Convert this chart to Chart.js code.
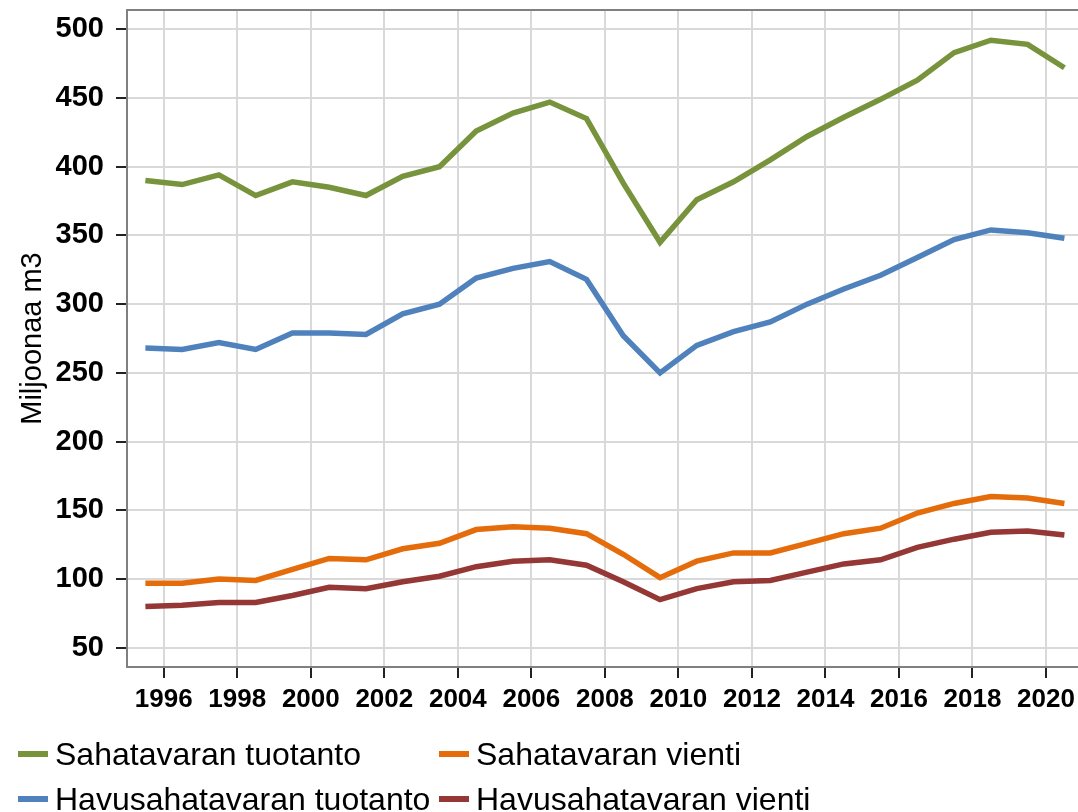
<!DOCTYPE html>
<html>
<head>
<meta charset="utf-8">
<script src="https://cdn.jsdelivr.net/npm/chart.js@4.4.0/dist/chart.umd.min.js"></script>
<style>
  html, body { margin: 0; padding: 0; background: #fff; }
  #wrap { position: relative; width: 1078px; height: 812px; overflow: hidden; }
  #chart { position: absolute; left: 0; top: 0; }
  .legend-item { position: absolute; font-family: "Liberation Sans", Arial, sans-serif; font-size: 32px; color: #000; white-space: nowrap; line-height: 36px; }
  .legend-item span.sw { position: absolute; left: 0; top: 15px; width: 30px; height: 6px; }
  .legend-item span.tx { position: absolute; left: 37px; top: 0; }
</style>
</head>
<body>
<div id="wrap">
  <canvas id="chart" width="1078" height="812"></canvas>
  <div id="legend"></div>
</div>
<script>
// Years (data plotted at mid-year)
const years = [1995, 1996, 1997, 1998, 1999, 2000, 2001, 2002, 2003, 2004, 2005, 2006, 2007,
  2008, 2009, 2010, 2011, 2012, 2013, 2014, 2015, 2016, 2017, 2018, 2019, 2020];

// Miljoonaa m3
const sahatavaranTuotanto = [390, 387, 394, 379, 389, 385, 379, 393, 400, 426, 439, 447, 435,
  388, 345, 376, 389, 405, 422, 436, 449, 463, 483, 492, 489, 472];
const havusahatavaranTuotanto = [268, 267, 272, 267, 279, 279, 278, 293, 300, 319, 326, 331, 318,
  277, 250, 270, 280, 287, 300, 311, 321, 334, 347, 354, 352, 348];
const sahatavaranVienti = [97, 97, 100, 99, 107, 115, 114, 122, 126, 136, 138, 137, 133,
  118, 101, 113, 119, 119, 126, 133, 137, 148, 155, 160, 159, 155];
const havusahatavaranVienti = [80, 81, 83, 83, 88, 94, 93, 98, 102, 109, 113, 114, 110,
  98, 85, 93, 98, 99, 105, 111, 114, 123, 129, 134, 135, 132];

const xTicks = [1996, 1998, 2000, 2002, 2004, 2006, 2008, 2010, 2012, 2014, 2016, 2018, 2020];
const yTicks = [50, 100, 150, 200, 250, 300, 350, 400, 450, 500];

const series = [
  { label: 'Sahatavaran tuotanto', data: sahatavaranTuotanto, color: '#77933c' },
  { label: 'Havusahatavaran tuotanto', data: havusahatavaranTuotanto, color: '#4f81bd' },
  { label: 'Sahatavaran vienti', data: sahatavaranVienti, color: '#e46c0a' },
  { label: 'Havusahatavaran vienti', data: havusahatavaranVienti, color: '#953735' }
];

const FONT = '"Liberation Sans", Arial, sans-serif';

// top frame line of the plot area
const topBorder = {
  id: 'topBorder',
  afterDraw(chart) {
    const { ctx, chartArea } = chart;
    ctx.save();
    ctx.strokeStyle = '#808080';
    ctx.lineWidth = 2;
    ctx.beginPath();
    ctx.moveTo(chartArea.left - 1, chartArea.top);
    ctx.lineTo(chartArea.right, chartArea.top);
    ctx.stroke();
    ctx.restore();
  }
};

const chart = new Chart(document.getElementById('chart').getContext('2d'), {
  type: 'line',
  data: {
    datasets: series.map(s => ({
      label: s.label,
      data: years.map((y, i) => ({ x: y + 0.5, y: s.data[i] })),
      borderColor: s.color,
      backgroundColor: s.color,
      borderWidth: 5.5,
      pointRadius: 0,
      tension: 0,
      fill: false
    }))
  },
  options: {
    responsive: false,
    animation: false,
    layout: { autoPadding: false, padding: { top: 10, right: 0, left: 0, bottom: 0 } },
    scales: {
      x: {
        type: 'linear',
        min: 1995,
        max: 2020.87,
        afterBuildTicks: (scale) => { scale.ticks = xTicks.map(v => ({ value: v })); },
        afterFit: (scale) => {
          scale.height = 145;
          scale.paddingLeft = 0;
          scale.paddingRight = 0;
        },
        ticks: {
          color: '#000',
          font: { family: FONT, size: 26, weight: 'bold' },
          padding: 6,
          maxRotation: 0,
          autoSkip: false,
          callback: (v) => String(v)
        },
        grid: { color: '#d9d9d9', lineWidth: 2, tickColor: '#222', tickWidth: 2, tickLength: 11 },
        border: { color: '#808080', width: 2 }
      },
      y: {
        min: 36,
        max: 514,
        afterBuildTicks: (scale) => { scale.ticks = yTicks.map(v => ({ value: v })); },
        afterFit: (scale) => {
          scale.width = 127;
          scale.paddingTop = 0;
          scale.paddingBottom = 0;
        },
        ticks: {
          color: '#000',
          font: { family: FONT, size: 29, weight: 'bold' },
          padding: 12
        },
        grid: { color: '#d9d9d9', lineWidth: 2, tickColor: '#222', tickWidth: 2, tickLength: 11 },
        border: { color: '#808080', width: 2 },
        title: {
          display: true,
          text: 'Miljoonaa m3',
          color: '#000',
          font: { family: FONT, size: 29 },
          padding: { top: 16, bottom: 0 }
        }
      }
    },
    plugins: {
      legend: { display: false },
      tooltip: { enabled: false }
    }
  },
  plugins: [topBorder]
});

// Legend in two columns
const legendPos = [
  { left: 18, top: 736 },
  { left: 18, top: 781 },
  { left: 439, top: 736 },
  { left: 439, top: 781 }
];
const legend = document.getElementById('legend');
series.forEach((s, i) => {
  const item = document.createElement('div');
  item.className = 'legend-item';
  item.style.left = legendPos[i].left + 'px';
  item.style.top = legendPos[i].top + 'px';
  item.innerHTML = '<span class="sw" style="background:' + s.color + '"></span><span class="tx">' + s.label + '</span>';
  legend.appendChild(item);
});
</script>
</body>
</html>
